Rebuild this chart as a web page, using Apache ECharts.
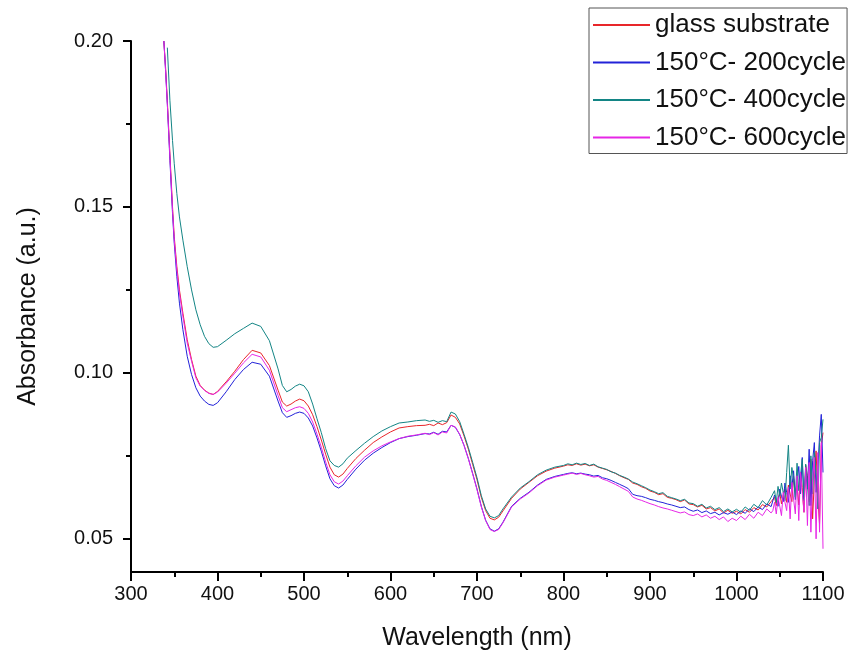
<!DOCTYPE html>
<html>
<head>
<meta charset="utf-8">
<script src="https://cdn.jsdelivr.net/npm/echarts@6/dist/echarts.min.js"></script>
<style>
  html, body { margin: 0; padding: 0; background: #fff; }
  #main { width: 851px; height: 659px; }
</style>
</head>
<body>
<div id="main"></div>
<script>
// wavelength grid (nm)
var wavelengths = [
  338, 340, 342, 345, 348, 350, 353, 356, 360, 365,
  370, 375, 380, 385, 390, 395, 400, 410, 420, 430,
  440, 450, 460, 470, 475, 480, 485, 490, 495, 500,
  505, 510, 515, 520, 525, 530, 535, 540, 545, 550,
  560, 570, 580, 590, 600, 610, 620, 630, 640, 645,
  650, 655, 660, 665, 670, 675, 680, 685, 690, 695,
  700, 705, 710, 715, 720, 725, 730, 740, 750, 760,
  770, 780, 790,
  800, 805, 810, 815, 820, 825, 830, 835, 840, 845,
  850, 855, 860, 865, 870, 875, 880, 885, 890, 895,
  900, 905, 910, 915, 920, 925, 930, 935, 940, 945,
  950, 955, 960, 965, 970, 975, 980, 985, 990, 995,
  1000, 1005, 1010, 1015, 1020, 1025, 1030, 1035, 1040,
  1042, 1044, 1046, 1048, 1050, 1052, 1054, 1056, 1058, 1060,
  1062, 1064, 1066, 1068, 1070, 1072, 1074, 1076, 1078, 1080,
  1082, 1084, 1086, 1088, 1090, 1092, 1094, 1096, 1098, 1100
];

var glassSubstrate = [
  0.200, 0.192, 0.182, 0.166, 0.150, 0.141, 0.132, 0.125, 0.118, 0.110,
  0.1040, 0.0990, 0.0962, 0.0948, 0.0939, 0.0935, 0.0944, 0.0973, 0.1005, 0.1040,
  0.1068, 0.1060, 0.1022, 0.0948, 0.0912, 0.0900, 0.0906, 0.0915, 0.0921, 0.0916,
  0.0900, 0.0874, 0.0838, 0.0798, 0.0755, 0.0716, 0.0693, 0.0686, 0.0695, 0.0712,
  0.0742, 0.0767, 0.0790, 0.0807, 0.0822, 0.0834, 0.0838, 0.0841, 0.0842, 0.0845,
  0.0841, 0.0849, 0.0844, 0.0850, 0.0873, 0.0866, 0.0846, 0.0810, 0.0770, 0.0724,
  0.0678, 0.0625, 0.0585, 0.0562, 0.0557, 0.0565, 0.0584, 0.0622, 0.0650, 0.0670,
  0.0690, 0.0704, 0.0713,
  0.0719, 0.0723, 0.0721, 0.0726, 0.0722, 0.0725, 0.0720, 0.0723, 0.0716, 0.0712,
  0.0708, 0.0703, 0.0697, 0.0690, 0.0684, 0.0679, 0.0668, 0.0664, 0.0657, 0.0652,
  0.0644, 0.0640, 0.0633, 0.0636, 0.0625, 0.0622, 0.0618, 0.0612, 0.0617, 0.0605,
  0.0603, 0.0596, 0.0601, 0.0590, 0.0594, 0.0584, 0.0590, 0.0578, 0.0586, 0.0577,
  0.0583, 0.0575, 0.0588, 0.0580, 0.0594, 0.0587, 0.0603, 0.0596, 0.0612,
  0.0612, 0.0625, 0.0600, 0.0618, 0.0640, 0.0605, 0.0632, 0.0650, 0.0610, 0.0662,
  0.0635, 0.0612, 0.0688, 0.0640, 0.0660, 0.0602, 0.0700, 0.0655, 0.0580, 0.0722,
  0.0690, 0.0612, 0.0740, 0.0560, 0.0680, 0.0765, 0.0625, 0.0545, 0.0780, 0.0820
];

var cycle200 = [
  0.200, 0.191, 0.181, 0.164, 0.148, 0.139, 0.129, 0.121, 0.113, 0.105,
  0.0995, 0.0955, 0.0930, 0.0915, 0.0905, 0.0902, 0.0910, 0.0943, 0.0980, 0.1010,
  0.1032, 0.1026, 0.0990, 0.0915, 0.0880, 0.0866, 0.0871, 0.0878, 0.0882, 0.0878,
  0.0864, 0.0840, 0.0804, 0.0764, 0.0720, 0.0681, 0.0660, 0.0653, 0.0662, 0.0679,
  0.0710, 0.0737, 0.0758, 0.0775, 0.0790, 0.0802, 0.0808, 0.0812, 0.0817, 0.0816,
  0.0821, 0.0815, 0.0824, 0.0822, 0.0842, 0.0836, 0.0814, 0.0782, 0.0742, 0.0697,
  0.0650, 0.0598, 0.0556, 0.0530, 0.0523, 0.0530, 0.0550, 0.0598, 0.0622, 0.0640,
  0.0662, 0.0679, 0.0688,
  0.0694, 0.0697, 0.0699, 0.0696, 0.0698, 0.0695, 0.0693, 0.0689, 0.0691, 0.0684,
  0.0681, 0.0676, 0.0670, 0.0664, 0.0658, 0.0651, 0.0634, 0.0630, 0.0628, 0.0624,
  0.0619, 0.0616, 0.0612, 0.0609, 0.0605, 0.0602, 0.0598, 0.0594, 0.0596, 0.0588,
  0.0583, 0.0587, 0.0579, 0.0584, 0.0576, 0.0580, 0.0572, 0.0579, 0.0574, 0.0581,
  0.0573, 0.0584, 0.0577, 0.0590, 0.0582, 0.0596, 0.0588, 0.0605, 0.0597,
  0.0600, 0.0632, 0.0615, 0.0598, 0.0650, 0.0628, 0.0612, 0.0668, 0.0640, 0.0610,
  0.0690, 0.0655, 0.0705, 0.0618, 0.0672, 0.0718, 0.0635, 0.0745, 0.0620, 0.0700,
  0.0650, 0.0770, 0.0600, 0.0735, 0.0790, 0.0640, 0.0705, 0.0810, 0.0875, 0.0700
];

var cycle400 = [
  null, null, 0.198, 0.182, 0.170, 0.163, 0.154, 0.147, 0.140, 0.132,
  0.125, 0.119, 0.1145, 0.1110, 0.1088, 0.1077, 0.1079, 0.1098, 0.1118, 0.1134,
  0.1150, 0.1140, 0.1097, 0.1012, 0.0962, 0.0943, 0.0950, 0.0960, 0.0966, 0.0961,
  0.0943, 0.0906, 0.0862, 0.0820, 0.0772, 0.0735, 0.0721, 0.0716, 0.0726, 0.0743,
  0.0766, 0.0788, 0.0808, 0.0825, 0.0838, 0.0849, 0.0852, 0.0856, 0.0858, 0.0854,
  0.0857, 0.0851, 0.0856, 0.0853, 0.0882, 0.0876, 0.0853, 0.0815, 0.0775, 0.0730,
  0.0684, 0.0630, 0.0590, 0.0568, 0.0563, 0.0570, 0.0590, 0.0626, 0.0653, 0.0672,
  0.0693, 0.0707, 0.0716,
  0.0721, 0.0726, 0.0723, 0.0728, 0.0724, 0.0727, 0.0721, 0.0725, 0.0717, 0.0713,
  0.0709, 0.0702, 0.0698, 0.0691, 0.0686, 0.0680, 0.0671, 0.0666, 0.0660, 0.0654,
  0.0647, 0.0642, 0.0636, 0.0639, 0.0628, 0.0624, 0.0620, 0.0615, 0.0619, 0.0608,
  0.0606, 0.0598, 0.0604, 0.0593, 0.0598, 0.0588, 0.0594, 0.0582, 0.0590, 0.0581,
  0.0589, 0.0580, 0.0596, 0.0586, 0.0604, 0.0594, 0.0615, 0.0602, 0.0625,
  0.0622, 0.0645, 0.0610, 0.0658, 0.0630, 0.0668, 0.0640, 0.0615, 0.0700, 0.0782,
  0.0650, 0.0715, 0.0680, 0.0625, 0.0728, 0.0645, 0.0690, 0.0740, 0.0615, 0.0725,
  0.0660, 0.0600, 0.0750, 0.0635, 0.0760, 0.0700, 0.0590, 0.0790, 0.0805, 0.0860
];

var cycle600 = [
  0.200, 0.191, 0.181, 0.165, 0.149, 0.140, 0.131, 0.124, 0.117, 0.109,
  0.1035, 0.0985, 0.0960, 0.0947, 0.0938, 0.0935, 0.0942, 0.0969, 0.0999, 0.1030,
  0.1056, 0.1048, 0.1008, 0.0932, 0.0895, 0.0883, 0.0889, 0.0895, 0.0898, 0.0893,
  0.0878, 0.0852, 0.0816, 0.0776, 0.0732, 0.0693, 0.0672, 0.0665, 0.0674, 0.0690,
  0.0720, 0.0746, 0.0765, 0.0780, 0.0792, 0.0802, 0.0809, 0.0813, 0.0818, 0.0814,
  0.0820, 0.0813, 0.0822, 0.0819, 0.0842, 0.0837, 0.0815, 0.0781, 0.0741, 0.0695,
  0.0648, 0.0596, 0.0555, 0.0528, 0.0522, 0.0528, 0.0548, 0.0596, 0.0620, 0.0638,
  0.0660, 0.0677, 0.0686,
  0.0692, 0.0695, 0.0698, 0.0694, 0.0697, 0.0693, 0.0690, 0.0686, 0.0688, 0.0680,
  0.0676, 0.0670, 0.0664, 0.0657, 0.0650, 0.0643, 0.0626, 0.0620, 0.0616, 0.0611,
  0.0606, 0.0602, 0.0597, 0.0593, 0.0590, 0.0586, 0.0582, 0.0578, 0.0581, 0.0573,
  0.0570, 0.0575, 0.0566, 0.0572, 0.0562, 0.0568, 0.0558, 0.0566, 0.0552, 0.0562,
  0.0555, 0.0568, 0.0558, 0.0574, 0.0562, 0.0580, 0.0570, 0.0590, 0.0578,
  0.0585, 0.0610, 0.0575, 0.0625, 0.0598, 0.0570, 0.0640, 0.0610, 0.0585, 0.0655,
  0.0560, 0.0670, 0.0620, 0.0575, 0.0690, 0.0555, 0.0700, 0.0640, 0.0580, 0.0715,
  0.0540, 0.0730, 0.0520, 0.0680, 0.0745, 0.0500, 0.0760, 0.0520, 0.0790, 0.0470
];

var seriesNames = ["glass substrate", "150°C- 200cycle", "150°C- 400cycle", "150°C- 600cycle"];
var seriesColors = ["#e8262a", "#2222d8", "#138585", "#e626e6"];
var yMajorTicks = [0.05, 0.10, 0.15, 0.20];
var yMinorTicks = [0.075, 0.125, 0.175];

function pairs(ys) {
  return wavelengths.map(function (x, i) {
    return [x, ys[i]];
  });
}

var myChart = echarts.init(document.getElementById("main"));
var font = "Liberation Sans, Arial, sans-serif";
var allData = [glassSubstrate, cycle200, cycle400, cycle600];

var option = {
  animation: false,
  backgroundColor: "#fff",
  textStyle: { fontFamily: font, color: "#111" },
  grid: { left: 131, right: 28, top: 41, bottom: 87 },
  legend: {
    orient: "vertical",
    left: 589,
    top: 8,
    padding: [3, 1, 2, 3],
    itemGap: 9.5,
    itemWidth: 57,
    itemHeight: 28,
    itemStyle: { opacity: 0 },
    borderColor: "#555",
    borderWidth: 1,
    textStyle: { fontFamily: font, fontSize: 26, color: "#111", lineHeight: 28 },
    data: seriesNames
  },
  xAxis: {
    type: "value",
    min: 300,
    max: 1100,
    interval: 100,
    name: "Wavelength (nm)",
    nameLocation: "middle",
    nameGap: 54,
    nameTextStyle: { fontFamily: font, fontSize: 25, color: "#111" },
    axisLine: { onZero: false, lineStyle: { color: "#000", width: 2 } },
    axisTick: { length: 9, lineStyle: { color: "#000", width: 2 } },
    minorTick: { show: true, splitNumber: 2, length: 5, lineStyle: { color: "#000", width: 2 } },
    axisLabel: {
      fontSize: 20,
      color: "#111",
      margin: 12,
      formatter: function (v) { return String(v); }
    },
    splitLine: { show: false }
  },
  yAxis: [
    {
      type: "value",
      min: 0.04,
      max: 0.2,
      name: "Absorbance (a.u.)",
      nameLocation: "middle",
      nameGap: 90,
      nameTextStyle: { fontFamily: font, fontSize: 25, color: "#111" },
      axisLine: { show: true, lineStyle: { color: "#000", width: 2 } },
      axisTick: { show: true, length: 8, customValues: yMajorTicks, lineStyle: { color: "#000", width: 2 } },
      axisLabel: {
        fontSize: 20,
        color: "#111",
        margin: 18,
        customValues: yMajorTicks,
        formatter: function (v) { return v.toFixed(2); }
      },
      splitLine: { show: false }
    },
    {
      type: "value",
      min: 0.04,
      max: 0.2,
      position: "left",
      axisLine: { show: false },
      axisTick: { show: true, length: 5, customValues: yMinorTicks, lineStyle: { color: "#000", width: 2 } },
      axisLabel: { show: false },
      splitLine: { show: false }
    }
  ],
  series: allData.map(function (ys, i) {
    return {
      name: seriesNames[i],
      type: "line",
      data: pairs(ys),
      showSymbol: false,
      symbol: "none",
      color: seriesColors[i],
      lineStyle: { width: 1, color: seriesColors[i] },
      connectNulls: false,
      clip: true
    };
  })
};

myChart.setOption(option);
</script>
</body>
</html>
